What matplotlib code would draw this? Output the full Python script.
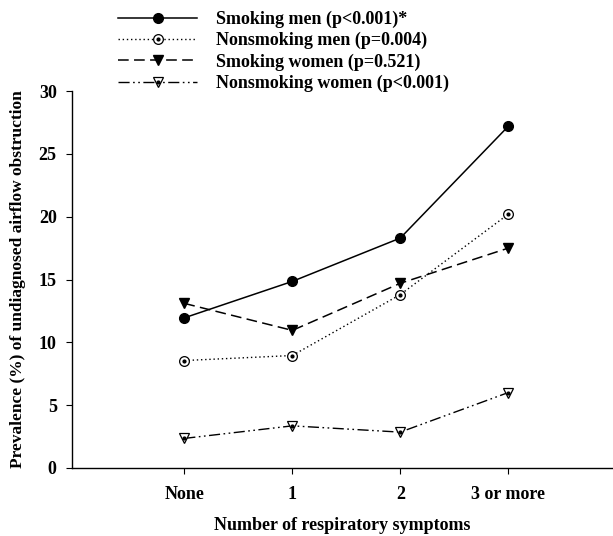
import numpy as np
import matplotlib
matplotlib.use('Agg')
import matplotlib.pyplot as plt
from matplotlib.legend_handler import HandlerTuple

plt.rcParams['font.family'] = ['Liberation Serif', 'DejaVu Serif']
plt.rcParams['font.weight'] = 'bold'

categories = ['None', '1', '2', '3 or more']
smoking_men = [11.95, 14.85, 18.3, 27.2]
nonsmoking_men = [8.55, 8.95, 13.8, 20.2]
smoking_women = [13.1, 10.95, 14.7, 17.5]
nonsmoking_women = [2.35, 3.35, 2.85, 6.0]
labels = ['Smoking men (p<0.001)*', 'Nonsmoking men (p=0.004)',
          'Smoking women (p=0.521)', 'Nonsmoking women (p<0.001)']

fig = plt.figure(figsize=(6.13, 5.36), dpi=100)
ax = fig.add_axes([0.1175, 0.127, 0.8825, 0.703])

x = np.arange(len(categories))

h1, = ax.plot(x, smoking_men, color='black', lw=1.1, marker='o', ms=7,
              mfc='black', mec='black')

# open circle with a dot in the middle
h2, = ax.plot(x, nonsmoking_men, color='black', lw=1.0, ls=(0, (1, 2)),
              marker='o', ms=7, mfc='white', mec='black', mew=0.9)
h2d, = ax.plot(x, nonsmoking_men, ls='none', marker='o', ms=2, color='black')

h3, = ax.plot(x, smoking_women, color='black', lw=1.1, ls=(0, (7, 3.5)),
              marker='v', ms=7.5, mfc='black', mec='black')

# open triangle with a dot inside
h4, = ax.plot(x, nonsmoking_women, color='black', lw=1.0,
              ls=(0, (8, 2.5, 1.2, 2.5, 1.2, 2.5)),
              marker='v', ms=7, mfc='white', mec='black', mew=0.9)
h4d, = ax.plot(x, nonsmoking_women, ls='none', marker='o', ms=2, color='black')

ax.set_xlim(-1.04, 3.97)
ax.set_ylim(0, 30)
ax.set_yticks([0, 5, 10, 15, 20, 25, 30])
ax.set_xticks(x)
ax.set_xticklabels(categories)
ax.tick_params(direction='out', length=4, width=0.8, labelsize=13, pad=7)
ax.tick_params(axis='x', pad=9)
for s in ['top', 'right']:
    ax.spines[s].set_visible(False)
for s in ['left', 'bottom']:
    ax.spines[s].set_linewidth(1.0)

ax.set_xlabel('Number of respiratory symptoms', fontsize=13, fontweight='bold',
              labelpad=10)
ax.set_ylabel('Prevalence (%) of undiagnosed airflow obstruction', fontsize=12.5,
              fontweight='bold', labelpad=9)

fig.legend([h1, (h2, h2d), h3, (h4, h4d)], labels,
           loc='upper left', bbox_to_anchor=(0.1925, 0.98), frameon=False,
           borderpad=0, borderaxespad=0, numpoints=1,
           fontsize=13, handlelength=4.4, handletextpad=1.05, labelspacing=0.22,
           handler_map={tuple: HandlerTuple(ndivide=1)})

fig.savefig('out.png', dpi=100)
